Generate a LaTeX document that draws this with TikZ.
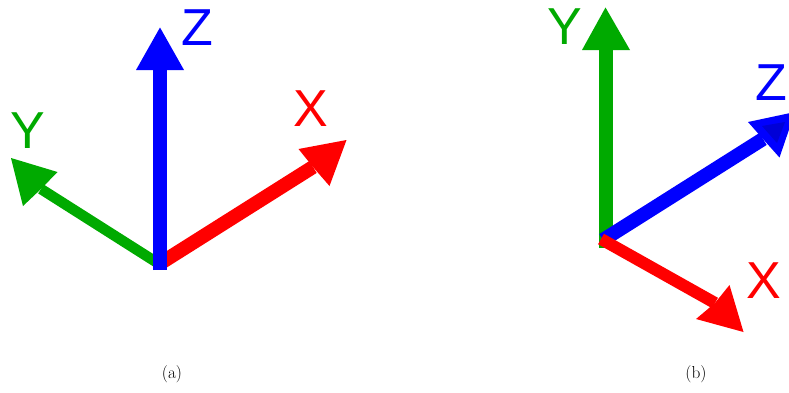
\documentclass[tikz,border=0pt]{standalone}
\usepackage{fontspec}
\newfontfamily\axisfont{Liberation Sans}
\definecolor{axred}{RGB}{255,0,0}
\definecolor{axgreen}{RGB}{0,170,0}
\definecolor{axblue}{RGB}{0,0,255}
\definecolor{axdark}{RGB}{0,0,215}
\tikzset{
  axislabel/.style={inner sep=0pt,font=\axisfont\fontsize{52}{52}\selectfont},
  caption/.style={inner sep=0pt,font=\fontsize{17.3}{20}\selectfont},
  shaft/.style={line width=#1,line cap=butt},
  head/.style={fill=#1,draw=none}
}
\begin{document}
\begin{tikzpicture}[x=1pt,y=-1pt]
\useasboundingbox (0,0) rectangle (789,392);
\clip (0,0) rectangle (789,392);
% panel (a)
\coordinate (aYs) at (160,264.5);
\coordinate (aYn) at (41,189);
\coordinate (aXs) at (160,263.5);
\coordinate (aXn) at (313,167);
\coordinate (aZs) at (160,270);
\coordinate (aZn) at (160,70);
\draw[axgreen,shaft=10.5pt] (aYs) -- (aYn);
\fill[head=axgreen] (11,158) -- (57.5,172) -- (41,189) -- (23,206) -- cycle;
\draw[axred,shaft=14pt] (aXs) -- (aXn);
\fill[head=axred] (346.5,140) -- (298.5,149) -- (313,167) -- (329.5,186) -- cycle;
\draw[axblue,shaft=14pt] (aZs) -- (aZn);
\fill[head=axblue] (160,27.5) -- (184,70) -- (136,70) -- cycle;
\node[axislabel,text=axblue] (aZ) at (197,28) {Z};
\node[axislabel,text=axred] (aX) at (311,108.5) {X};
\node[axislabel,text=axgreen] (aY) at (28,130.5) {Y};
\node[caption] (capa) at (172,374) {(a)};
% panel (b)
\coordinate (bYs) at (606,248);
\coordinate (bYn) at (606,50);
\coordinate (bZs) at (603,240);
\coordinate (bZn) at (763,139);
\coordinate (bXs) at (601,239);
\coordinate (bXn) at (715,303);
\draw[axgreen,shaft=14pt] (bYs) -- (bYn);
\fill[head=axgreen] (605.5,7.5) -- (630,50) -- (582,50) -- cycle;
\draw[axblue,shaft=14pt] (bZs) -- (bZn);
\fill[head=axblue] (795,112) -- (748,122) -- (763,139) -- (779.5,157.5) -- cycle;
\fill[axdark] (762,126) -- (785,122) -- (777,143) -- cycle;
\draw[axred,shaft=12pt] (bXs) -- (bXn);
\fill[head=axred] (743.5,332) -- (696,319) -- (715,303) -- (729.5,285) -- cycle;
\node[axislabel,text=axgreen] (bY) at (565,27) {Y};
\node[axislabel,text=axblue] (bZ) at (771,83) {Z};
\node[axislabel,text=axred] (bX) at (764,281) {X};
\node[caption] (capb) at (696,374) {(b)};
\end{tikzpicture}
\end{document}
